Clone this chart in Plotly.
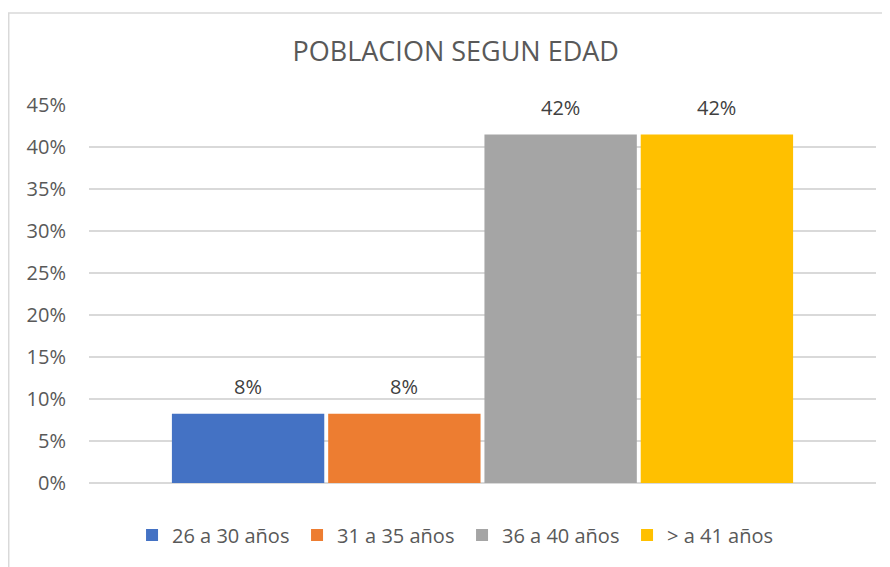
import plotly.graph_objects as go

categories = ["26 a 30 años", "31 a 35 años", "36 a 40 años", "> a 41 años"]
values = [0.0825, 0.0825, 0.415, 0.415]
colors = ["#4472C4", "#ED7D31", "#A5A5A5", "#FFC000"]
y_ticks = [0, 0.05, 0.10, 0.15, 0.20, 0.25, 0.30, 0.35, 0.40, 0.45]
title_text = "POBLACION SEGUN EDAD"

FONT = "Open Sans"

fig = go.Figure()
for cat, val, col in zip(categories, values, colors):
    fig.add_trace(go.Bar(
        x=[cat], y=[val], name=cat,
        marker=dict(color=col, line=dict(width=0)),
        hoverinfo="skip",
    ))

annotations = []
for cat, val in zip(categories, values):
    annotations.append(dict(
        x=cat, y=val, xref="x", yref="y",
        text=f"{int(val * 100 + 0.5)}%",
        showarrow=False, yanchor="middle", yshift=27,
        font=dict(family=FONT, size=20, color="#404040"),
    ))

fig.update_layout(
    width=890, height=567,
    margin=dict(l=81, r=22, t=97, b=92),
    paper_bgcolor="white", plot_bgcolor="white",
    barmode="overlay", bargap=0.025,
    title=dict(text=title_text, x=0.466, xref="paper", xanchor="center",
               y=1 - 44 / 567, yref="container", yanchor="middle",
               font=dict(family=FONT, size=27, color="#595959")),
    xaxis=dict(type="category", categoryorder="array", categoryarray=categories,
               range=[-1.018, 4.018], showticklabels=False, showgrid=False,
               zeroline=False, showline=False, ticks=""),
    yaxis=dict(range=[0, 0.45], tickvals=y_ticks, tickformat=".0%",
               showgrid=True, gridcolor="#d9d9d9", gridwidth=1.5,
               zeroline=True, zerolinecolor="#d9d9d9", zerolinewidth=1.5,
               showline=False, ticks="", ticklabelstandoff=22,
               tickfont=dict(family=FONT, size=20, color="#595959")),
    legend=dict(orientation="h", x=0.474, xanchor="center", xref="paper",
                y=-0.1376, yanchor="middle", traceorder="normal",
                font=dict(family=FONT, size=20, color="#595959"),
                itemwidth=30, entrywidth=120, entrywidthmode="pixels"),
    showlegend=True,
    annotations=annotations,
    shapes=[dict(type="rect", xref="paper", yref="paper",
                 x0=-0.102, x1=1.2, y0=-0.6, y1=1.2434,
                 line=dict(color="#d9d9d9", width=1.5), fillcolor="rgba(0,0,0,0)",
                 layer="below")],
)

fig.write_html("out.html")
